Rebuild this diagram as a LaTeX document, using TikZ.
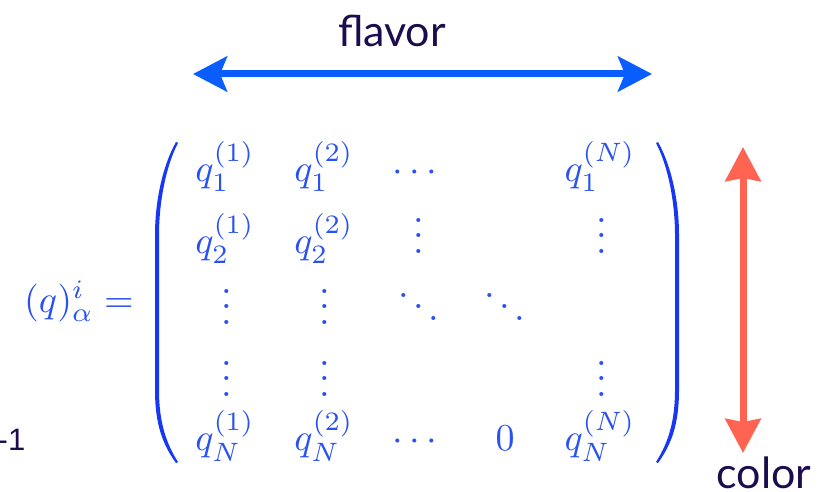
\documentclass[tikz,border=0pt]{standalone}
\usepackage{graphicx}
\usepackage{fontspec}
\newfontfamily\lato{Lato}
\newfontfamily\arialf{Liberation Sans}
\usetikzlibrary{arrows.meta}
\definecolor{mblue}{HTML}{2A52F2}
\definecolor{pblue}{HTML}{1638F5}
\definecolor{ablue}{HTML}{0A5EFF}
\definecolor{salmon}{HTML}{FF6352}
\definecolor{navy}{HTML}{1C0E4E}
\newcommand{\mscale}[1]{\scalebox{3.8}{$#1$}}
\begin{document}
\begin{tikzpicture}[x=1pt,y=-1pt,
  ent/.style={inner sep=0pt, anchor=base, text=mblue, font=\fontsize{10}{12}\selectfont},
  lab/.style={inner sep=0pt, anchor=base, text=navy, font=\lato\fontsize{43}{50}\selectfont},
  dbl/.style={line width=7pt, {Stealth[length=34pt,width=35pt,inset=#1]}-{Stealth[length=34pt,width=35pt,inset=#1]}}]
\useasboundingbox (0,0) rectangle (829,492);
% labels
\node[lab] (flavor) at (392,47) {flavor};
\node[lab] (color) at (764,488) {color};
\node[inner sep=0pt, anchor=base east, text=navy, font=\arialf\fontsize{31}{36}\selectfont] (m1) at (25.5,450) {-1};
% arrows
\coordinate (fl) at (193,74);
\coordinate (fr) at (652,74);
\draw[dbl=7pt, ablue] (fl) -- (fr);
\coordinate (ct) at (743,147);
\coordinate (cb) at (743,453);
\draw[dbl=3pt, salmon] (ct) -- (cb);
% lhs
\node[ent, anchor=base east] (lhs) at (134,312) {\mscale{(q)^i_\alpha =}};
% parens
\fill[pblue] (176,142) .. controls (163,165) and (155,200) .. (155,235) -- (155,390) .. controls (155,425) and (163,445) .. (176,463) -- (178,462) .. controls (166,443) and (159,422) .. (159,390) -- (159,235) .. controls (159,202) and (166,166) .. (178,143) -- cycle;
\fill[pblue] (658,142) .. controls (671,165) and (679,200) .. (679,235) -- (679,390) .. controls (679,425) and (671,445) .. (658,463) -- (656,462) .. controls (668,443) and (675,422) .. (675,390) -- (675,235) .. controls (675,202) and (668,166) .. (656,143) -- cycle;
% row 1
\node[ent] (a11) at (225,181) {\mscale{q_1^{(1)}}};
\node[ent] (a12) at (324,181) {\mscale{q_1^{(2)}}};
\node[ent] (a13) at (415,181) {\mscale{\cdots}};
\node[ent] (a15) at (600,181) {\mscale{q_1^{(N)}}};
% row 2
\node[ent] (a21) at (225,253) {\mscale{q_2^{(1)}}};
\node[ent] (a22) at (324,253) {\mscale{q_2^{(2)}}};
\node[ent] (a23) at (419,253) {\mscale{\vdots}};
\node[ent] (a25) at (602,253) {\mscale{\vdots}};
% row 3
\node[ent] (a31) at (227,324) {\mscale{\vdots}};
\node[ent] (a32) at (325,324) {\mscale{\vdots}};
\node[ent] (a33) at (419,324) {\mscale{\ddots}};
\node[ent] (a34) at (505,324) {\mscale{\ddots}};
% row 4
\node[ent] (a41) at (227,396) {\mscale{\vdots}};
\node[ent] (a42) at (325,396) {\mscale{\vdots}};
\node[ent] (a45) at (602,396) {\mscale{\vdots}};
% row 5
\node[ent] (a51) at (225,450) {\mscale{q_N^{(1)}}};
\node[ent] (a52) at (324,450) {\mscale{q_N^{(2)}}};
\node[ent] (a53) at (415,450) {\mscale{\cdots}};
\node[ent] (a54) at (505,450) {\mscale{0}};
\node[ent] (a55) at (600,450) {\mscale{q_N^{(N)}}};
\end{tikzpicture}
\end{document}
